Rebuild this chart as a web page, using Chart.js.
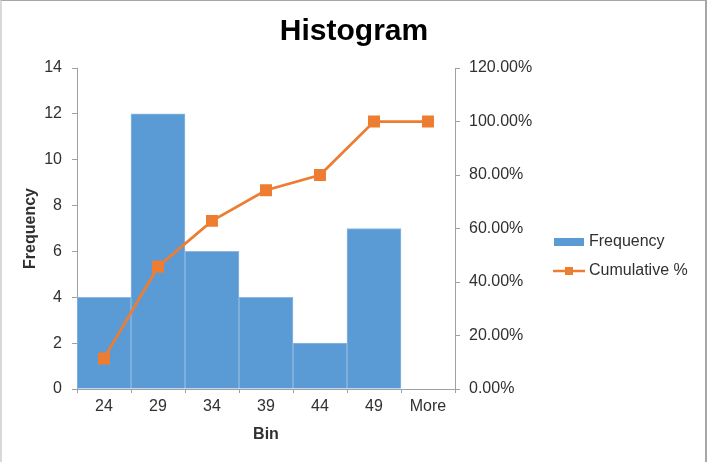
<!DOCTYPE html>
<html>
<head>
<meta charset="utf-8">
<script src="https://cdn.jsdelivr.net/npm/chart.js@4.4.0/dist/chart.umd.min.js"></script>
<style>
  html, body { margin: 0; padding: 0; background: #fff; }
  #wrap { position: relative; width: 711px; height: 462px; }
  #frame {
    position: absolute; left: 0; top: 0; width: 707px; height: 462px;
    border-top: 1px solid #a6a6a6; border-left: 2px solid #d9d9d9; border-right: 2px solid #a6a6a6;
    box-sizing: border-box; pointer-events: none;
  }
</style>
</head>
<body>
<div id="wrap">
  <canvas id="grafico" width="711" height="462"></canvas>
  <div id="frame"></div>
</div>
<script>
const bins = ['24', '29', '34', '39', '44', '49', 'More'];
const frequency = [4, 12, 6, 4, 2, 7, 0];
const cumulative = [11.43, 45.71, 62.86, 74.29, 80.00, 100.00, 100.00];

const barColor = '#5b9bd5';
const lineColor = '#ed7d31';
const textColor = '#303030';
const axisColor = '#a0a0a0';

// title + legend drawn by hand, like Excel
const extras = {
    id: 'extras',
    afterDraw(chart) {
        const ctx = chart.ctx;
        ctx.save();
        ctx.fillStyle = '#000';
        ctx.font = 'bold 30px "Liberation Sans", Arial, sans-serif';
        ctx.textAlign = 'center';
        ctx.textBaseline = 'middle';
        ctx.fillText('Histogram', 354, 32);

        ctx.font = '16px "Liberation Sans", Arial, sans-serif';
        ctx.textAlign = 'left';
        ctx.fillStyle = barColor;
        ctx.fillRect(554, 238, 30, 8);
        ctx.fillStyle = textColor;
        ctx.fillText('Frequency', 589, 242);

        ctx.strokeStyle = lineColor;
        ctx.lineWidth = 2.5;
        ctx.beginPath();
        ctx.moveTo(553, 271);
        ctx.lineTo(585, 271);
        ctx.stroke();
        ctx.fillStyle = lineColor;
        ctx.fillRect(565, 267, 8, 8);
        ctx.fillStyle = textColor;
        ctx.fillText('Cumulative %', 589, 271);
        ctx.restore();
    }
};

const tickFont = { family: '"Liberation Sans", Arial, sans-serif', size: 16 };
const titleFont = { family: '"Liberation Sans", Arial, sans-serif', size: 16, weight: 'bold' };

new Chart(document.getElementById('grafico').getContext('2d'), {
    type: 'bar',
    data: {
        labels: bins,
        datasets: [{
            type: 'line',
            label: 'Cumulative %',
            data: cumulative,
            yAxisID: 'y1',
            borderColor: lineColor,
            backgroundColor: lineColor,
            borderWidth: 2.75,
            pointStyle: 'rect',
            pointRadius: 6.5,
            tension: 0,
            order: 0
        }, {
            label: 'Frequency',
            data: frequency,
            yAxisID: 'y',
            backgroundColor: barColor,
            borderColor: '#8fb9e2',
            borderWidth: 1,
            barPercentage: 1,
            categoryPercentage: 1,
            order: 1
        }]
    },
    options: {
        responsive: false,
        animation: false,
        layout: { padding: { top: 68, left: 0, right: 0, bottom: 0 } },
        plugins: {
            legend: { display: false },
            title: { display: false },
            tooltip: { enabled: false }
        },
        scales: {
            x: {
                grid: { display: true, drawOnChartArea: false, offset: true, tickLength: 4, color: axisColor },
                border: { color: axisColor },
                ticks: { font: tickFont, color: textColor, padding: 4, maxRotation: 0 },
                title: { display: true, text: 'Bin', font: titleFont, color: textColor, padding: { top: 0, bottom: 18 } },
                afterFit: s => { s.height = 73; }
            },
            y: {
                position: 'left',
                min: 0,
                max: 14,
                grid: { display: true, drawOnChartArea: false, tickLength: 5, color: axisColor },
                border: { color: axisColor },
                ticks: { stepSize: 2, font: tickFont, color: textColor, padding: 10 },
                title: { display: true, text: 'Frequency', font: titleFont, color: textColor, padding: { top: 21, bottom: 0 } },
                afterFit: s => { s.width = 77; }
            },
            y1: {
                position: 'right',
                min: 0,
                max: 120,
                grid: { display: true, drawOnChartArea: false, tickLength: 5, color: axisColor },
                border: { color: axisColor },
                ticks: {
                    stepSize: 20, font: tickFont, color: textColor, padding: 9,
                    callback: v => v.toFixed(2) + '%'
                },
                afterFit: s => { s.width = 256; }
            }
        }
    },
    plugins: [extras]
});
</script>
</body>
</html>
